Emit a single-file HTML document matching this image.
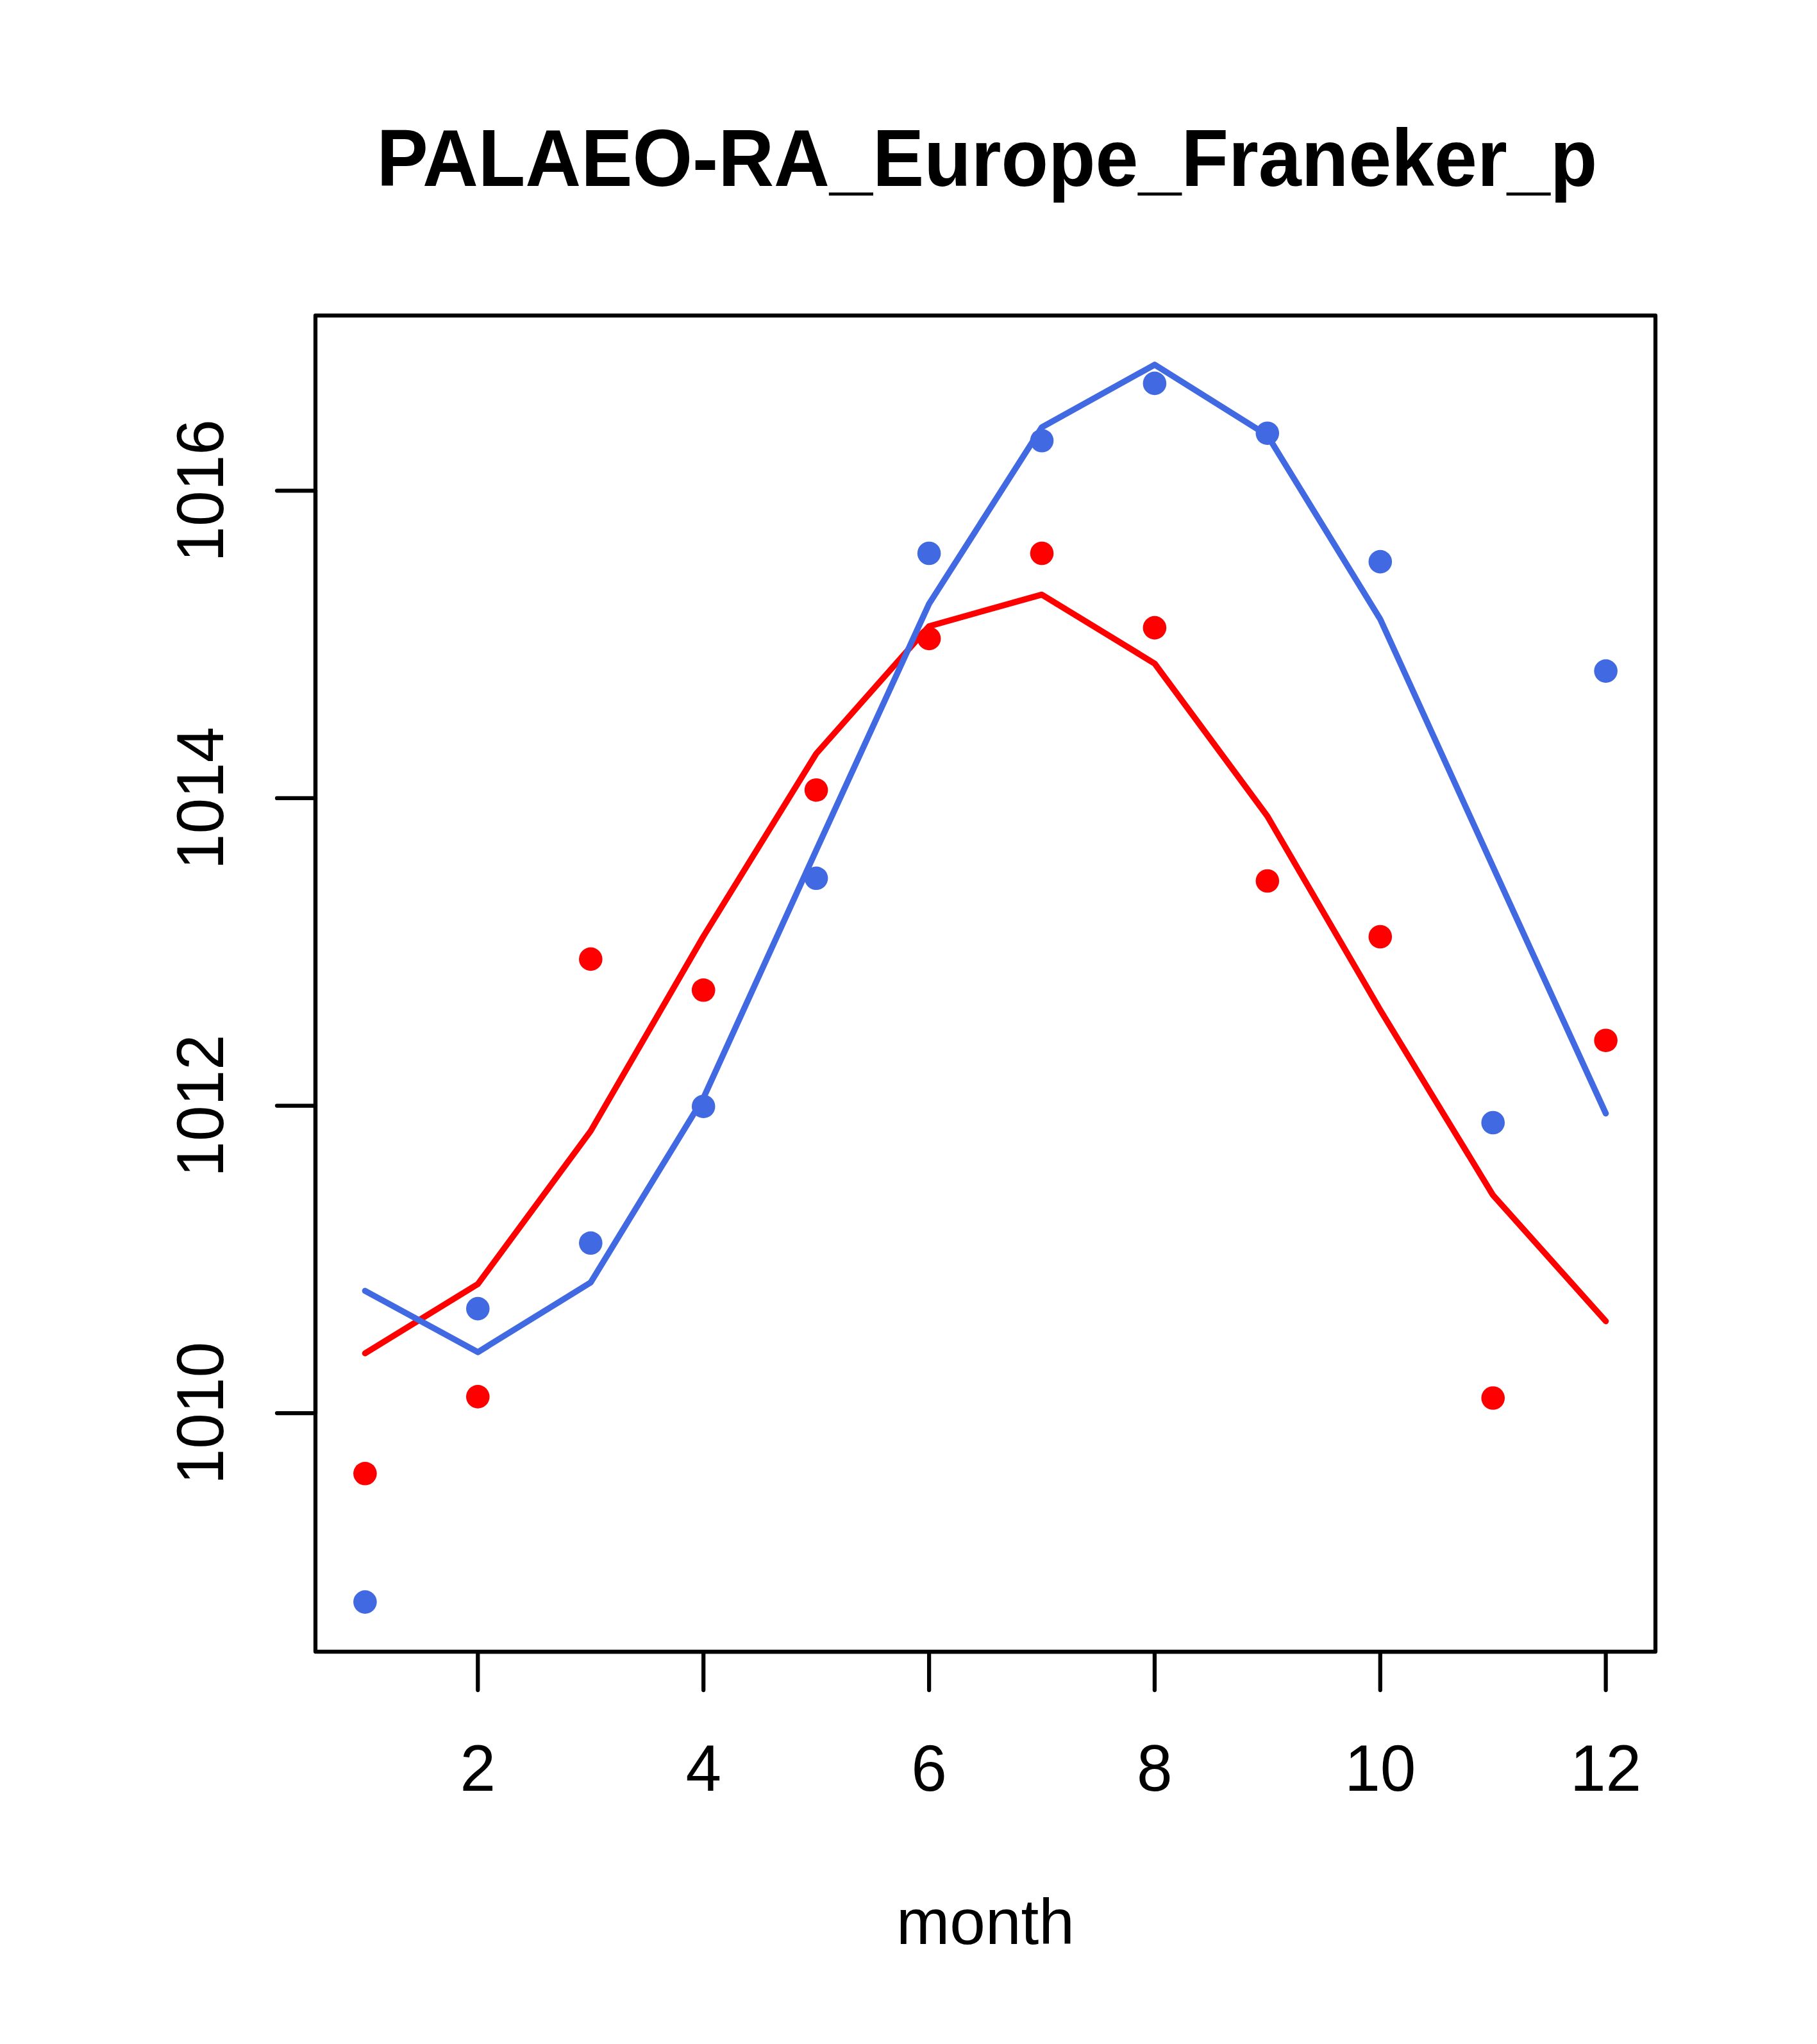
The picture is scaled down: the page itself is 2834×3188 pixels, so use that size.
<!DOCTYPE html>
<html lang="en"><head><meta charset="utf-8"><title>PALAEO-RA_Europe_Franeker_p</title>
<style>
html,body{margin:0;padding:0;background:#fff;}
svg{display:block;}
text{font-family:"Liberation Sans",sans-serif;fill:#000;}
</style></head><body>
<svg width="2834" height="3188" viewBox="0 0 2834 3188">
<rect width="2834" height="3188" fill="#fff"/>
<g fill="#FF0000">
<circle cx="569.4" cy="2298.3" r="18.3"/>
<circle cx="745.3" cy="2178.4" r="18.3"/>
<circle cx="921.3" cy="1495.9" r="18.3"/>
<circle cx="1097.2" cy="1544.3" r="18.3"/>
<circle cx="1273.1" cy="1232.2" r="18.3"/>
<circle cx="1449.1" cy="995.9" r="18.3"/>
<circle cx="1625.0" cy="863.0" r="18.3"/>
<circle cx="1800.9" cy="979.1" r="18.3"/>
<circle cx="1976.8" cy="1374.0" r="18.3"/>
<circle cx="2152.8" cy="1461.0" r="18.3"/>
<circle cx="2328.7" cy="2180.5" r="18.3"/>
<circle cx="2504.6" cy="1622.7" r="18.3"/>
</g>
<g fill="none" stroke="#000" stroke-width="6.25" stroke-linecap="round" stroke-linejoin="round">
<path d="M745.3,2576 H2504.6"/>
<path d="M745.3,2576 v60"/>
<path d="M1097.2,2576 v60"/>
<path d="M1449.1,2576 v60"/>
<path d="M1800.9,2576 v60"/>
<path d="M2152.8,2576 v60"/>
<path d="M2504.6,2576 v60"/>
<path d="M492,2204.1 V765.3"/>
<path d="M492,2204.1 h-60"/>
<path d="M492,1724.5 h-60"/>
<path d="M492,1244.9 h-60"/>
<path d="M492,765.3 h-60"/>
<rect x="492" y="492" width="2090" height="2084"/>
</g>
<g font-size="100" text-anchor="middle">
<text transform="translate(745.3,2792.5) scale(1,1.025)">2</text>
<text transform="translate(1097.2,2792.5) scale(1,1.025)">4</text>
<text transform="translate(1449.1,2792.5) scale(1,1.025)">6</text>
<text transform="translate(1800.9,2792.5) scale(1,1.025)">8</text>
<text transform="translate(2152.8,2792.5) scale(1,1.025)">10</text>
<text transform="translate(2504.6,2792.5) scale(1,1.025)">12</text>
<text transform="translate(348,2204.1) rotate(-90) scale(1,1.03)">1010</text>
<text transform="translate(348,1724.5) rotate(-90) scale(1,1.03)">1012</text>
<text transform="translate(348,1244.9) rotate(-90) scale(1,1.03)">1014</text>
<text transform="translate(348,765.3) rotate(-90) scale(1,1.03)">1016</text>
<text x="1537" y="3032">month</text>
</g>
<text transform="translate(1539.4,290) scale(1.0029,1.057)" font-size="120" font-weight="bold" text-anchor="middle">PALAEO-RA_Europe_Franeker_p</text>
<g fill="none" stroke-width="9.4" stroke-linecap="round" stroke-linejoin="round">
<polyline stroke="#FF0000" points="569.4,2110.8 745.3,2002.7 921.3,1764.0 1097.2,1460.4 1273.1,1175.5 1449.1,976.7 1625.0,927.4 1800.9,1034.9 1976.8,1273.1 2152.8,1575.3 2328.7,1864.2 2504.6,2060.7"/>
</g>
<g fill="#4169E1">
<circle cx="569.4" cy="2498.6" r="18.3"/>
<circle cx="745.3" cy="2041.1" r="18.3"/>
<circle cx="921.3" cy="1938.8" r="18.3"/>
<circle cx="1097.2" cy="1725.7" r="18.3"/>
<circle cx="1273.1" cy="1369.8" r="18.3"/>
<circle cx="1449.1" cy="863.0" r="18.3"/>
<circle cx="1625.0" cy="687.3" r="18.3"/>
<circle cx="1800.9" cy="597.9" r="18.3"/>
<circle cx="1976.8" cy="675.7" r="18.3"/>
<circle cx="2152.8" cy="876.1" r="18.3"/>
<circle cx="2328.7" cy="1751.0" r="18.3"/>
<circle cx="2504.6" cy="1046.6" r="18.3"/>
</g>
<g fill="none" stroke-width="9.4" stroke-linecap="round" stroke-linejoin="round">
<polyline stroke="#4169E1" points="569.4,2013.3 745.3,2108.9 921.3,2000.3 1097.2,1712.5 1273.1,1326.0 1449.1,941.8 1625.0,666.4 1800.9,568.8 1976.8,679.0 2152.8,965.7 2328.7,1352.0 2504.6,1736.7"/>
</g>
</svg></body></html>
